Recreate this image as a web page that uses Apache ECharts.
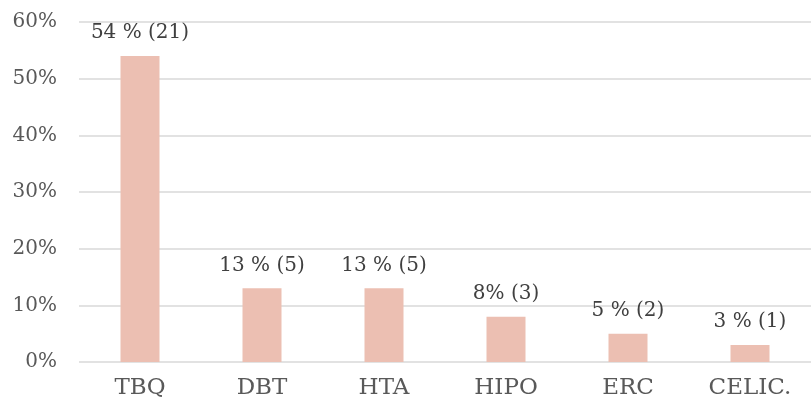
<!DOCTYPE html>
<html>
<head>
<meta charset="utf-8">
<script src="https://cdn.jsdelivr.net/npm/echarts@6/dist/echarts.min.js"></script>
<style>
  html, body { margin: 0; padding: 0; background: #fff; }
  #chart { width: 811px; height: 400px; }
</style>
</head>
<body>
<div id="chart"></div>
<script>
// 类别与数值
const categories = ['TBQ', 'DBT', 'HTA', 'HIPO', 'ERC', 'CELIC.'];
const percentValues = [54, 13, 13, 8, 5, 3];
const countValues = [21, 5, 5, 3, 2, 1];
const labelTexts = ['54 % (21)', '13 % (5)', '13 % (5)', '8% (3)', '5 % (2)', '3 % (1)'];
const yTicks = [0, 10, 20, 30, 40, 50, 60];

const serif = '"DejaVu Serif", "Liberation Serif", serif';

let chart = echarts.init(document.getElementById('chart'), null, { renderer: 'canvas' });

chart.setOption({
    animation: false,
    grid: { left: 79, right: -8, top: 22, bottom: 38 },
    xAxis: {
        type: 'category',
        data: categories,
        axisLine: { show: false },
        axisTick: { show: false },
        axisLabel: { color: '#595959', fontFamily: serif, fontSize: 23, margin: 15 }
    },
    yAxis: {
        type: 'value',
        min: yTicks[0],
        max: yTicks[yTicks.length - 1],
        interval: 10,
        axisLine: { show: false },
        axisTick: { show: false },
        splitLine: { lineStyle: { color: '#d9d9d9', width: 1.5 } },
        axisLabel: {
            color: '#595959', fontFamily: serif, fontSize: 20, margin: 22,
            formatter: v => v + '%'
        }
    },
    series: [{
        type: 'bar',
        data: percentValues.map((v, i) => ({ value: v, count: countValues[i] })),
        barWidth: 39,
        itemStyle: { color: '#ecbfb2' },
        label: {
            show: true,
            position: 'top',
            distance: 13,
            color: '#404040',
            fontFamily: serif,
            fontSize: 20,
            formatter: p => labelTexts[p.dataIndex]
        }
    }]
});
</script>
</body>
</html>
